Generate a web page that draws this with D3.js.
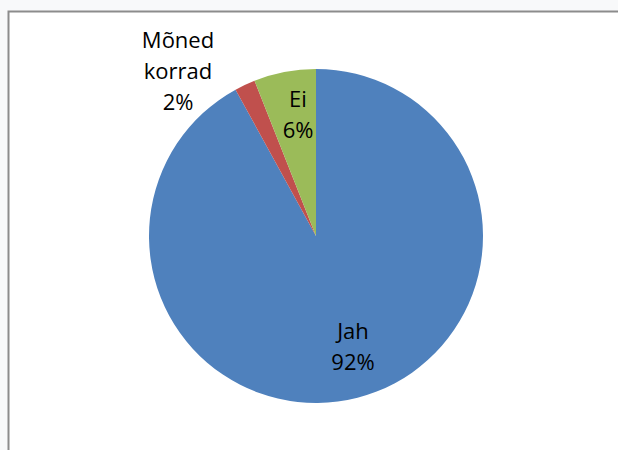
<!DOCTYPE html>
<html>
<head>
<meta charset="utf-8">
<script src="https://d3js.org/d3.v7.min.js"></script>
<style>
  body { margin: 0; background: #f8f9fa; }
  svg { display: block; }
</style>
</head>
<body>
<script>
// slice data, clockwise from 12 o'clock
var labels = ["Jah", "Mõned korrad", "Ei"];
var values = [92, 2, 6];
var colors = ["#4f81bd", "#c0504d", "#9bbb59"];

var width = 618, height = 450;
var cx = 316, cy = 236, r = 167;

var svg = d3.select("body").append("svg")
  .attr("width", width)
  .attr("height", height);

// chart area frame (white, cut off at right and bottom)
svg.append("rect")
  .attr("x", 9).attr("y", 12)
  .attr("width", width - 9).attr("height", height - 12)
  .attr("fill", "#fff");
svg.append("path")
  .attr("d", "M8.5," + height + "V11.5H" + width)
  .attr("fill", "none")
  .attr("stroke", "#8c8c8c")
  .attr("stroke-width", 2);

var data = labels.map(function(d, i) { return {label: d, value: values[i], color: colors[i]}; });

var pie = d3.pie().sort(null).value(function(d) { return d.value; });
var arc = d3.arc().innerRadius(0).outerRadius(r);

var g = svg.append("g").attr("transform", "translate(" + cx + "," + cy + ")");
var arcs = pie(data);

g.selectAll("path.slice")
  .data(arcs)
  .enter().append("path")
  .attr("class", "slice")
  .attr("d", arc)
  .attr("fill", function(d) { return d.data.color; });

// label text and offsets from the pie centre
var labelLines = [["Jah", "92%"], ["Mõned", "korrad", "2%"], ["Ei", "6%"]];
var labelPos = [[37, 111], [-138, -165], [-18, -121]];

arcs.forEach(function(a, i) {
  var x = labelPos[i][0], y = labelPos[i][1];
  var lines = labelLines[i];
  var lh = 31;
  var t = g.append("text")
    .attr("text-anchor", "middle")
    .attr("font-family", "'Open Sans', sans-serif")
    .attr("font-size", 22)
    .attr("fill", "#000");
  lines.forEach(function(l, j) {
    t.append("tspan")
      .attr("x", x)
      .attr("y", y + (j - (lines.length - 1) / 2) * lh)
      .attr("dy", "0.35em")
      .text(l);
  });
});
</script>
</body>
</html>
